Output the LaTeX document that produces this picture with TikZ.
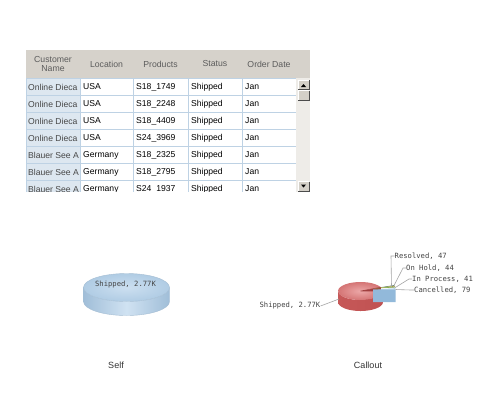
\documentclass[tikz,border=0pt]{standalone}
\usepackage{fontspec}
\setmainfont{Liberation Sans}
\newfontfamily\lblfont{DejaVu Sans Mono}
\usetikzlibrary{calc}
\definecolor{hdrbg}{RGB}{214,210,203}
\definecolor{hdrgray}{RGB}{92,92,92}
\definecolor{firstcol}{RGB}{221,231,240}
\definecolor{cellline}{RGB}{190,210,228}
\definecolor{scrollbg}{RGB}{238,236,232}
\definecolor{btnface}{RGB}{212,208,200}
\definecolor{lblgray}{RGB}{68,68,68}
\definecolor{leadgray}{RGB}{165,165,165}
\definecolor{capgray}{RGB}{51,51,51}
\definecolor{sideL}{RGB}{160,190,216}
\definecolor{sideM}{RGB}{208,226,242}
\definecolor{sideR}{RGB}{160,190,216}
\definecolor{topIn}{RGB}{204,223,240}
\definecolor{topOut}{RGB}{176,204,228}
\definecolor{pieedge}{RGB}{165,190,212}
\definecolor{redTopIn}{RGB}{236,168,168}
\definecolor{redTopOut}{RGB}{212,116,116}
\definecolor{redSideL}{RGB}{198,88,88}
\definecolor{redSideM}{RGB}{234,152,152}
\definecolor{redSideR}{RGB}{192,82,82}
\definecolor{redDark}{RGB}{160,62,62}
\definecolor{blueTop}{RGB}{150,190,222}
\definecolor{blueFace}{RGB}{146,185,218}
\definecolor{greenS}{RGB}{110,160,50}
\definecolor{oliveS}{RGB}{185,165,45}
\definecolor{resS}{RGB}{90,125,110}
\begin{document}
\begin{tikzpicture}[x=1pt,y=-1pt,
  hdrtxt/.style={font=\fontsize{8.7}{9.8}\selectfont, text=hdrgray, align=center, inner sep=0pt},
  celltxt/.style={font=\fontsize{8.6}{10}\selectfont, anchor=west, inner sep=0pt, text=black},
  firsttxt/.style={celltxt, text=black!72},
  cellbox/.style={draw=cellline, fill=white, line width=0.8pt},
  firstbox/.style={draw=cellline, fill=firstcol, line width=0.8pt},
  pielbl/.style={font=\lblfont\fontsize{7.2}{8}\selectfont, text=lblgray, inner sep=0pt},
  leader/.style={draw=leadgray, line width=0.6pt},
  caption/.style={font=\fontsize{9}{10}\selectfont, text=capgray, inner sep=0pt}]
\useasboundingbox (0,0) rectangle (486,416);
\fill[white] (0,0) rectangle (486,416);
% ---------- table header
\fill[hdrbg] (26,50) rectangle (310,78);
\node[hdrtxt] (h1) at (53,64) {Customer\\Name};
\node[hdrtxt] (h2) at (106.5,64) {Location};
\node[hdrtxt] (h3) at (160.5,64) {Products};
\node[hdrtxt] (h4) at (215,64) {Status};
\node[hdrtxt] (h5) at (269,64) {Order Date};
% ---------- table body
\begin{scope}
\clip (26,78) rectangle (310,191.5);
\foreach \i/\ca/\cb/\cc in {0/Online Dieca/USA/S18\_1749,1/Online Dieca/USA/S18\_2248,2/Online Dieca/USA/S18\_4409,3/Online Dieca/USA/S24\_3969,4/Blauer See A/Germany/S18\_2325,5/Blauer See A/Germany/S18\_2795,6/Blauer See A/Germany/S24\_1937}{
  \pgfmathsetmacro\ya{78+17*\i}
  \pgfmathsetmacro\yb{95+17*\i}
  \pgfmathsetmacro\ym{87+17*\i}
  \draw[firstbox] (26,\ya) rectangle (80,\yb);
  \draw[cellbox] (80,\ya) rectangle (133,\yb);
  \draw[cellbox] (133,\ya) rectangle (188,\yb);
  \draw[cellbox] (188,\ya) rectangle (242,\yb);
  \draw[cellbox] (242,\ya) rectangle (296,\yb);
  \node[firsttxt] (c\i-1) at (28,\ym) {\ca};
  \node[celltxt] (c\i-2) at (83,\ym) {\cb};
  \node[celltxt] (c\i-3) at (136,\ym) {\cc};
  \node[celltxt] (c\i-4) at (191,\ym) {Shipped};
  \node[celltxt] (c\i-5) at (245,\ym) {Jan};
}
\end{scope}
% ---------- scrollbar
\fill[scrollbg] (296.4,78) rectangle (310,192);
\fill[btnface] (298,80) rectangle (309,89.5);
\draw[white,line width=0.7pt] (298,89.5) -- (298,80) -- (309,80);
\draw[black!70,line width=0.7pt] (298,89.5) -- (309,89.5) -- (309,80);
\fill[black] (301,87) -- (306,87) -- (303.5,84) -- cycle;
\fill[btnface] (298,90.5) rectangle (309,100.5);
\draw[white,line width=0.7pt] (298,100.5) -- (298,90.5) -- (309,90.5);
\draw[black!70,line width=0.7pt] (298,100.5) -- (309,100.5) -- (309,90.5);
\fill[btnface] (298,181.5) rectangle (309,191);
\draw[white,line width=0.7pt] (298,191) -- (298,181.5) -- (309,181.5);
\draw[black!70,line width=0.7pt] (298,191) -- (309,191) -- (309,181.5);
\fill[black] (301,184.5) -- (306,184.5) -- (303.5,187.5) -- cycle;
% ---------- Self pie
\coordinate (sp) at (126.5,287.5);
\shade[left color=sideL, right color=sideR, middle color=sideM]
  ($(sp)+(0:43 and 14)$) arc[start angle=0,end angle=180,x radius=43,y radius=14]
  -- ++(0,14) arc[start angle=180,end angle=0,x radius=43,y radius=14] -- cycle;
\draw[pieedge,line width=0.4pt]
  ($(sp)+(0:43 and 14)$) -- ++(0,14) arc[start angle=0,end angle=180,x radius=43,y radius=14] -- ++(0,-14);
\shade[inner color=topIn, outer color=topOut] (sp) ellipse[x radius=43, y radius=14];
\draw[pieedge,line width=0.4pt] (sp) ellipse[x radius=43, y radius=14];
\node[pielbl] (slbl) at (125.5,284.5) {Shipped, 2.77K};
% ---------- Callout pie
\coordinate (cp) at (360.5,291);
\coordinate (cb) at (373,289.5);
\coordinate (cg) at (373,288.5);
% red cut face at 335
\fill[redDark] (cp) -- ($(cp)+(335:22.5 and 9)$) -- ++(0,11) -- ($(cp)+(0,11)$) -- cycle;
% small slices
\fill[resS] (cg) -- ($(cg)+(-22:22.5 and 9)$) arc[start angle=-22,end angle=-17,x radius=22.5,y radius=9] -- cycle;
\fill[oliveS] (cg) -- ($(cg)+(-17:22.5 and 9)$) arc[start angle=-17,end angle=-12,x radius=22.5,y radius=9] -- cycle;
\fill[greenS] (cg) -- ($(cg)+(-12:22.5 and 9)$) arc[start angle=-12,end angle=-7,x radius=22.5,y radius=9] -- cycle;
% red side
\shade[left color=redSideL, middle color=redSideM, right color=redSideR]
  ($(cp)+(2:22.5 and 9)$) arc[start angle=2,end angle=180,x radius=22.5,y radius=9]
  -- ++(0,11) arc[start angle=180,end angle=2,x radius=22.5,y radius=9] -- cycle;
% red top
\shade[inner color=redTopIn, outer color=redTopOut]
  (cp) -- ($(cp)+(2:22.5 and 9)$) arc[start angle=2,end angle=335,x radius=22.5,y radius=9] -- cycle;
\draw[redDark,line width=0.5pt] ($(cp)+(335:22.5 and 9)$) -- (cp) -- ($(cp)+(2:22.5 and 9)$);
% blue cancelled slice (exploded, in front)
\fill[blueTop] (cb) -- ($(cb)+(-7:22.5 and 9)$) arc[start angle=-7,end angle=1,x radius=22.5,y radius=9] -- cycle;
\fill[blueFace] (cb) -- ($(cb)+(1:22.5 and 9)$) -- ++(0,12.5) -- ($(cb)+(0,12.5)$) -- cycle;
% labels and leaders
\coordinate (rp) at (391.5,287);
\coordinate (op) at (393,287.5);
\coordinate (ip) at (394.5,288);
\coordinate (kp) at (395.5,289.5);
\coordinate (sh) at (339,299);
\node[pielbl, anchor=west] (res) at (394.5,256) {Resolved, 47};
\node[pielbl, anchor=west] (onh) at (406,268) {On Hold, 44};
\node[pielbl, anchor=west] (inp) at (412,279) {In Process, 41};
\node[pielbl, anchor=west] (can) at (414,290) {Cancelled, 79};
\node[pielbl, anchor=east] (shl) at (320.5,306) {Shipped, 2.77K};
\draw[leader] (res.west) -- ++(-3.5,0) -- (rp);
\draw[leader] (onh.west) -- ++(-3,0) -- (op);
\draw[leader] (inp.west) -- ++(-3,0) -- (ip);
\draw[leader] (can.west) -- ++(-3,0) -- (kp);
\draw[leader] (shl.east) -- (sh);
% captions
\node[caption] (cap1) at (116,365) {Self};
\node[caption] (cap2) at (368,365) {Callout};
\end{tikzpicture}
\end{document}
